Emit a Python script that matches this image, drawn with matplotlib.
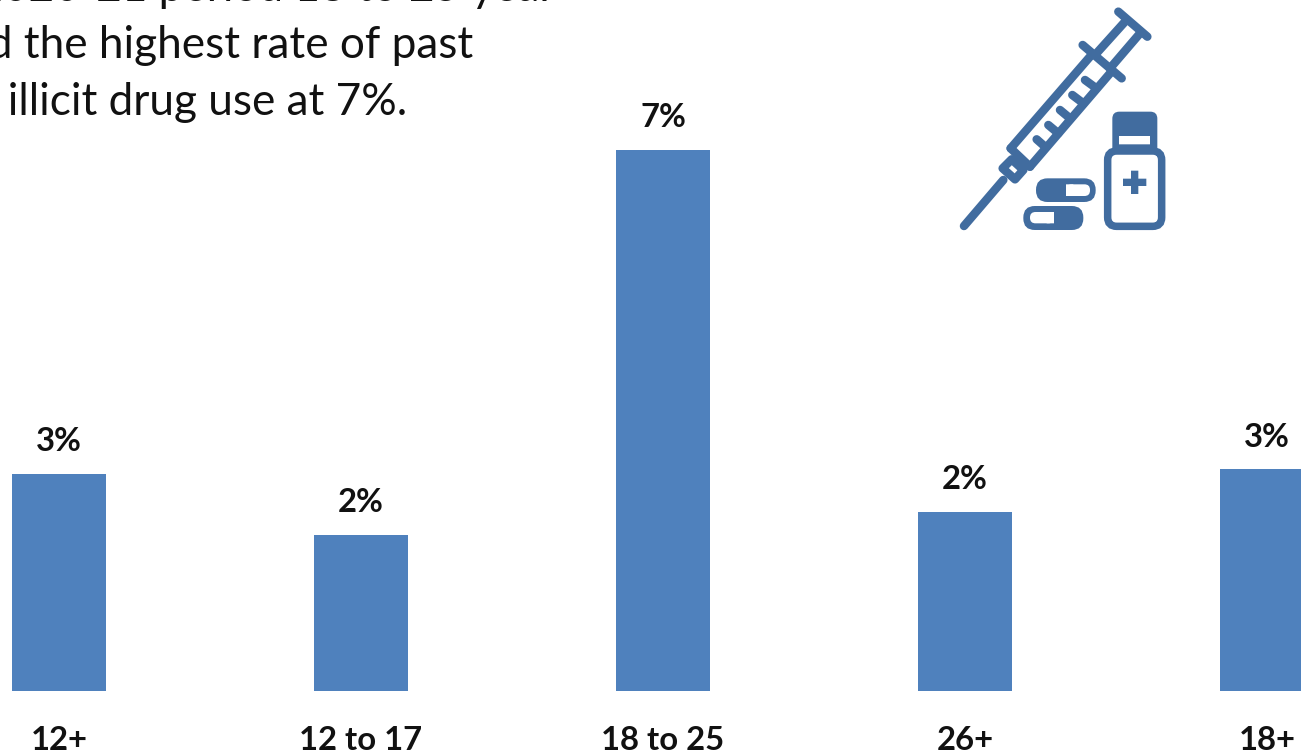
import matplotlib
matplotlib.use('Agg')
import matplotlib.pyplot as plt
from matplotlib.patches import FancyBboxPatch, Polygon

plt.rcParams['font.family'] = ['Lato', 'DejaVu Sans']

categories = ['12+', '12 to 17', '18 to 25', '26+', '18+']
values = [2.81, 2.02, 7.0, 2.32, 2.87]
value_labels = ['3%', '2%', '7%', '2%', '3%']
title_lines = ['In the 2020-21 period 18 to 25 year', 'olds had the highest rate of past', 'month illicit drug use at 7%.']

W, H = 1301, 754
BAR = '#4F81BD'
ICON = '#416C9F'

fig = plt.figure(figsize=(W / 100, H / 100), dpi=100)
ax = fig.add_axes([0, (H - 691) / H, 1, 691 / H])
ax.bar(range(len(values)), values, width=94.5 / 302, color=BAR)
ax.set_xlim(-59 / 302, (W - 59) / 302)
ax.set_ylim(0, 691 / 77.3)
ax.set_xticks(range(len(categories)))
ax.set_xticklabels(categories, fontsize=23.7, fontweight='bold', color='#111111')
ax.tick_params(axis='x', length=0, pad=25.5)
ax.set_yticks([])
for s in ax.spines.values():
    s.set_visible(False)
for i, v in enumerate(values):
    ax.annotate(value_labels[i], (i, v), xytext=(0, 23), textcoords='offset points',
                ha='center', va='center', fontsize=23.7, fontweight='bold', color='#111111')

# pixel overlay for text and icon
ov = fig.add_axes([0, 0, 1, 1], facecolor='none')
ov.set_xlim(0, W)
ov.set_ylim(H, 0)
ov.axis('off')

# title runs off the top left in the original
for line, x, y in zip(title_lines, [556, 473, 407], [1, 58, 115]):
    ov.text(x, y, line, fontsize=31.8, va='baseline', ha='right', color='#111111')


def px(zx, zy):
    return 940 + zx / 3, zy / 3


def seg(a, b, lw=8.5):
    x0, y0 = px(*a)
    x1, y1 = px(*b)
    ov.plot([x0, x1], [y0, y1], color=ICON, lw=lw * 0.72, solid_capstyle='round')


def box(x0, y0, x1, y1, r, fc, ec='none', lw=0):
    a = px(x0, y0)
    b = px(x1, y1)
    ov.add_patch(FancyBboxPatch((a[0] + r, a[1] + r), b[0] - a[0] - 2 * r, b[1] - a[1] - 2 * r,
                                boxstyle='round,pad=%f,rounding_size=%f' % (r, r),
                                fc=fc, ec=ec, lw=lw * 0.72))


# syringe
seg((72, 678), (190, 540))
seg((212, 445), (450, 170))
seg((270, 500), (510, 220))
seg((212, 445), (270, 500))
seg((428, 135), (545, 235))
seg((465, 165), (555, 65))
seg((510, 205), (600, 100))
seg((535, 35), (622, 110))
for a, b in [((290, 418), (315, 440)), ((325, 375), (355, 400)), ((360, 330), (390, 355)),
             ((397, 285), (430, 310)), ((435, 240), (465, 262))]:
    seg(a, b)
hub = [(188, 505), (215, 478), (250, 510), (225, 538)]
ov.add_patch(Polygon([px(*p) for p in hub], closed=True, fc='white', ec=ICON, lw=8.5 * 0.72, joinstyle='round'))

# bottle
box(517, 335, 652, 470, 7, ICON)
box(537, 408, 630, 433, 0, 'white')
box(503, 453, 665, 679, 9, 'white', ICON, 7.5)
box(573, 512, 595, 582, 0, ICON)
box(549, 536, 619, 558, 0, ICON)

# pills
box(288, 535, 467, 606, 11.5, ICON)
box(378, 553, 450, 588, 5.5, 'white')
box(378, 553, 400, 588, 0, 'white')
box(250, 618, 430, 690, 11.5, ICON)
box(270, 636, 342, 670, 5.5, 'white')
box(320, 636, 342, 670, 0, 'white')

fig.savefig('out.png', dpi=100)
